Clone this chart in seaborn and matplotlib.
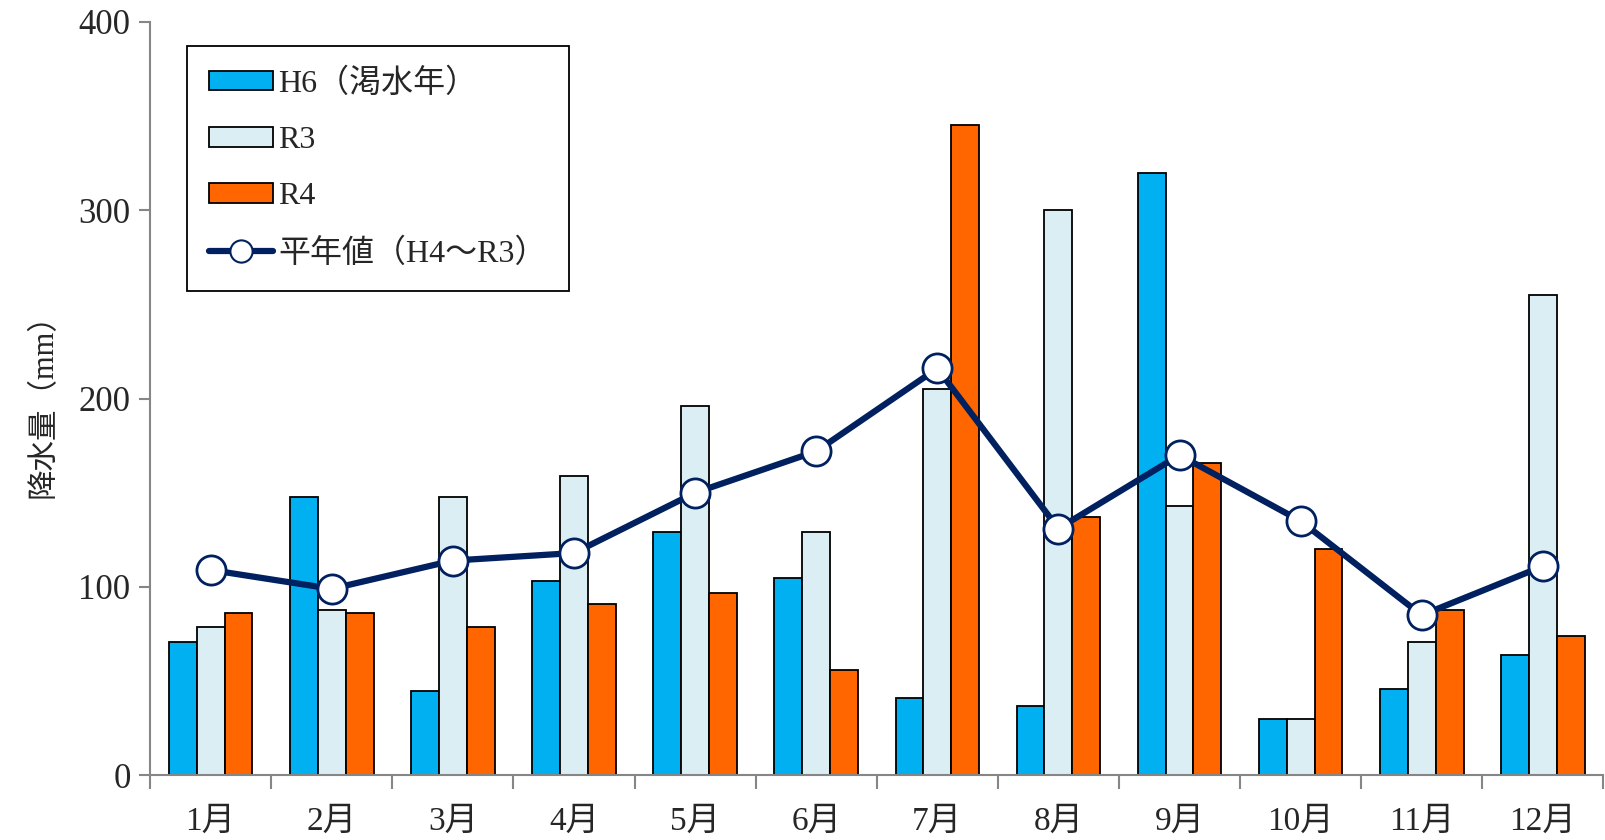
import matplotlib.pyplot as plt
from matplotlib.lines import Line2D
from matplotlib.patches import Patch
from matplotlib.ticker import MultipleLocator
import pandas as pd
import seaborn as sns

sns.set_theme(style="white")
plt.rcParams['font.family'] = ['Liberation Serif', 'Noto Sans CJK JP']

months = ["1月", "2月", "3月", "4月", "5月", "6月", "7月", "8月", "9月", "10月", "11月", "12月"]
h6 = [71, 148, 45, 103, 129, 105, 41, 37, 320, 30, 46, 64]
r3 = [79, 88, 148, 159, 196, 129, 205, 300, 143, 30, 71, 255]
r4 = [86, 86, 79, 91, 97, 56, 345, 137, 166, 120, 88, 74]
avg = [109, 99, 114, 118, 150, 172, 216, 131, 170, 135, 85, 111]

series = ["H6（渇水年）", "R3", "R4"]
colors = ["#00B0F0", "#DAEEF3", "#FF6600"]
line_label = "平年値（H4～R3）"
navy = "#002060"
gray = "#868686"

df = pd.DataFrame({
    "month": months * 3,
    "value": h6 + r3 + r4,
    "series": [series[0]] * 12 + [series[1]] * 12 + [series[2]] * 12,
})

fig, ax = plt.subplots(figsize=(16.05, 8.4), dpi=100)
fig.subplots_adjust(left=0.0935, right=0.999, bottom=0.077, top=0.974)

sns.barplot(data=df, x="month", y="value", hue="series", hue_order=series,
            palette=colors, order=months, width=0.69, edgecolor="black",
            linewidth=1.3, saturation=1, ax=ax, legend=False)

sns.lineplot(x=months, y=avg, color=navy, linewidth=4.5, marker="o",
             markersize=21, markerfacecolor="white", markeredgecolor=navy,
             markeredgewidth=2, sort=False, ax=ax)

ax.set_xlim(-0.5, 11.5)
ax.set_ylim(0, 400)
ax.yaxis.set_major_locator(MultipleLocator(100))
ax.set_xlabel("")
ax.set_ylabel("降水量（mm）", fontsize=22, labelpad=14)

for s in ["top", "right"]:
    ax.spines[s].set_visible(False)
for s in ["left", "bottom"]:
    ax.spines[s].set_color(gray)
    ax.spines[s].set_linewidth(1.5)

ax.tick_params(axis="y", direction="out", length=8, width=1.5, color=gray,
               labelsize=25, pad=6, left=True)
ax.tick_params(axis="x", which="major", length=0, labelsize=24, pad=22)
ax.set_xticks([i + 0.5 for i in range(-1, 12)], minor=True)
ax.tick_params(axis="x", which="minor", direction="out", length=10, width=1.5,
               color=gray, bottom=True)

handles = [Patch(facecolor=c, edgecolor="black", linewidth=1.3) for c in colors]
handles.append(Line2D([0], [0], color=navy, linewidth=4.5, marker="o", markersize=16,
                      markerfacecolor="white", markeredgecolor=navy, markeredgewidth=1.5))
leg = ax.legend(handles, series + [line_label], loc="upper left",
                bbox_to_anchor=(0.0255, 0.9675), borderaxespad=0, fontsize=23,
                frameon=True, fancybox=False, edgecolor="black", framealpha=1,
                handlelength=2.0, handleheight=0.55, handletextpad=0.15,
                labelspacing=0.85, borderpad=0.7)
leg.get_frame().set_linewidth(1.3)

plt.savefig("out.png", dpi=100)
plt.close()
